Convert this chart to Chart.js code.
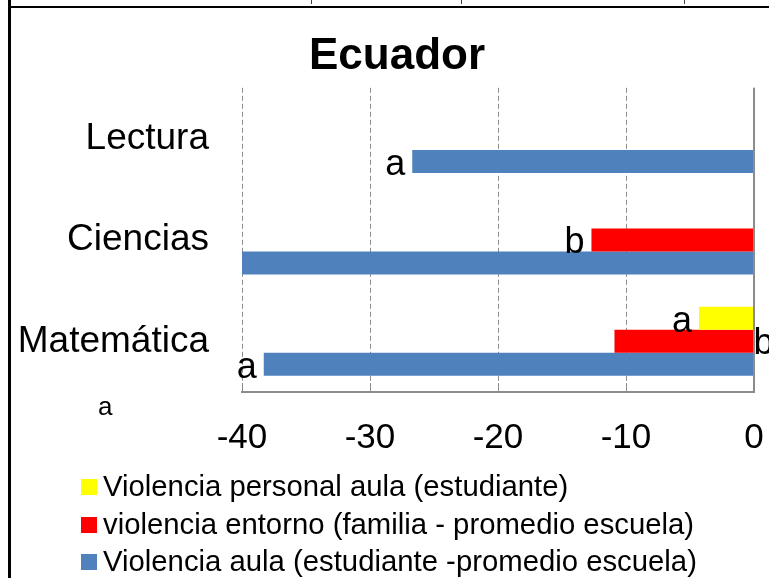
<!DOCTYPE html>
<html>
<head>
<meta charset="utf-8">
<script src="https://cdn.jsdelivr.net/npm/chart.js@4/dist/chart.umd.min.js"></script>
<style>
  html, body { margin: 0; padding: 0; background: #fff; }
  body { width: 769px; height: 578px; position: relative; overflow: hidden;
         font-family: "Liberation Sans", Arial, sans-serif; }
  #frameTop { position: absolute; left: 8px; top: 6px; width: 761px; height: 2px; background: #000; }
  #frameLeft { position: absolute; left: 8px; top: 0; width: 3px; height: 578px; background: #000; }
  .cut { position: absolute; top: 0; width: 1px; height: 4px; background: #444; }
  #wrap { position: absolute; left: 10px; top: 8px; width: 759px; height: 476px; }
  #legend { position: absolute; left: 81px; top: 471px; }
  #legend .row { position: absolute; left: 0; height: 29px; white-space: nowrap; }
  #legend .box { position: absolute; left: 0; top: 8px; width: 16px; height: 16px; }
  #legend .txt { position: absolute; left: 22px; top: 0; font-size: 29.3px; line-height: 29px; color: #000; }
  #suelta { position: absolute; left: 98px; top: 393px; font-size: 26px; line-height: 26px;
            font-family: "Liberation Sans Narrow", "Arial Narrow", "Liberation Sans", sans-serif; }
</style>
</head>
<body>
<div id="frameTop"></div>
<div id="frameLeft"></div>
<div class="cut" style="left:311px"></div>
<div class="cut" style="left:461px"></div>
<div class="cut" style="left:684px"></div>
<div id="wrap"><canvas id="chart"></canvas></div>
<div id="suelta">a</div>
<div id="legend"></div>
<script>
// categorías (de arriba hacia abajo)
const materias = ['Lectura', 'Ciencias', 'Matemática'];

// series
const nombres = [
  'Violencia personal aula (estudiante)',
  'violencia entorno (familia - promedio escuela)',
  'Violencia aula (estudiante -promedio escuela)'
];
const personalAula = [null, null, -4.3];
const entorno = [null, -12.7, -10.9];
const aula = [-26.7, -40, -38.3];

// letras de significancia junto a cada barra
const letrasPersonal = ['', '', 'a'];
const letrasEntorno = ['', 'b', 'b'];
const letrasAula = ['a', '', 'a'];

// eje x
const xMin = -40, xMax = 0, xPaso = 10;

const letras = [letrasPersonal, letrasEntorno, letrasAula];

Chart.defaults.font.family = '"Liberation Sans", Arial, sans-serif';

// línea del cero, marcas internas del eje, letras a/b y título desplazado
const letrasPlugin = {
  id: 'letras',
  afterLayout(chart, args, opts) {
    // el título del original está algo a la derecha del centro
    if (chart.titleBlock) chart.titleBlock.left += opts.tituloDesplazado;
  },
  afterDatasetsDraw(chart, args, opts) {
    const { ctx, chartArea, scales } = chart;
    const x0 = scales.x.getPixelForValue(0);
    ctx.save();
    ctx.strokeStyle = '#8c8c8c';
    ctx.lineWidth = 2;
    ctx.beginPath();
    ctx.moveTo(x0, chartArea.top);
    ctx.lineTo(x0, chartArea.bottom);
    ctx.stroke();

    ctx.lineWidth = 1;
    scales.x.ticks.forEach(t => {
      const px = Math.round(scales.x.getPixelForValue(t.value)) + 0.5;
      ctx.beginPath();
      ctx.moveTo(px, chartArea.bottom - 9);
      ctx.lineTo(px, chartArea.bottom);
      ctx.stroke();
    });

    ctx.font = '36px "Liberation Sans", Arial, sans-serif';
    ctx.fillStyle = '#000';
    ctx.textBaseline = 'alphabetic';
    letras.forEach((fila, di) => {
      const meta = chart.getDatasetMeta(di);
      fila.forEach((txt, i) => {
        if (!txt) return;
        const bar = meta.data[i];
        const abajo = bar.y + bar.height / 2;
        if (opts.enBase.some(([d, k]) => d === di && k === i)) {
          ctx.textAlign = 'left';
          ctx.fillText(txt, bar.base, abajo + 1);
        } else {
          ctx.textAlign = 'right';
          ctx.fillText(txt, bar.x - 7, abajo + 2);
        }
      });
    });
    ctx.restore();
  }
};

const chart = new Chart(document.getElementById('chart'), {
  type: 'bar',
  data: {
    labels: materias,
    datasets: [
      { label: nombres[0], data: personalAula, backgroundColor: '#FFFF00' },
      { label: nombres[1], data: entorno, backgroundColor: '#FF0000' },
      { label: nombres[2], data: aula, backgroundColor: '#4F81BD' }
    ]
  },
  options: {
    indexAxis: 'y',
    responsive: true,
    maintainAspectRatio: false,
    animation: false,
    layout: { padding: { left: 0, right: 15, top: 0, bottom: 0 } },
    datasets: { bar: { barPercentage: 1, categoryPercentage: 0.68 } },
    scales: {
      x: {
        min: xMin, max: xMax,
        ticks: { stepSize: xPaso, color: '#000', font: { size: 35, lineHeight: 2.4 }, padding: 4 },
        grid: { color: '#8c8c8c', lineWidth: 1, drawTicks: false },
        border: { color: '#8c8c8c', width: 2, dash: [5, 3] }
      },
      y: {
        grid: { display: false, drawTicks: false },
        border: { display: false },
        ticks: { color: '#000', font: { size: 37 }, padding: 33 },
        afterFit(s) { s.width = 232; }
      }
    },
    plugins: {
      legend: { display: false },
      tooltip: { enabled: false },
      title: {
        display: true, text: 'Ecuador', color: '#000',
        font: { size: 44, weight: 'bold' },
        padding: { top: 22, bottom: 5 }
      },
      letras: { enBase: [[1, 2]], tituloDesplazado: 30 }
    }
  },
  plugins: [letrasPlugin]
});

// leyenda en HTML a partir de los datos del gráfico
const leyenda = document.getElementById('legend');
Chart.defaults.plugins.legend.labels.generateLabels(chart).forEach((it, i) => {
  const row = document.createElement('div');
  row.className = 'row';
  row.style.top = (i * 37.5) + 'px';
  const box = document.createElement('span');
  box.className = 'box';
  box.style.background = it.fillStyle;
  const txt = document.createElement('span');
  txt.className = 'txt';
  txt.textContent = it.text;
  row.appendChild(box);
  row.appendChild(txt);
  leyenda.appendChild(row);
});
</script>
</body>
</html>
